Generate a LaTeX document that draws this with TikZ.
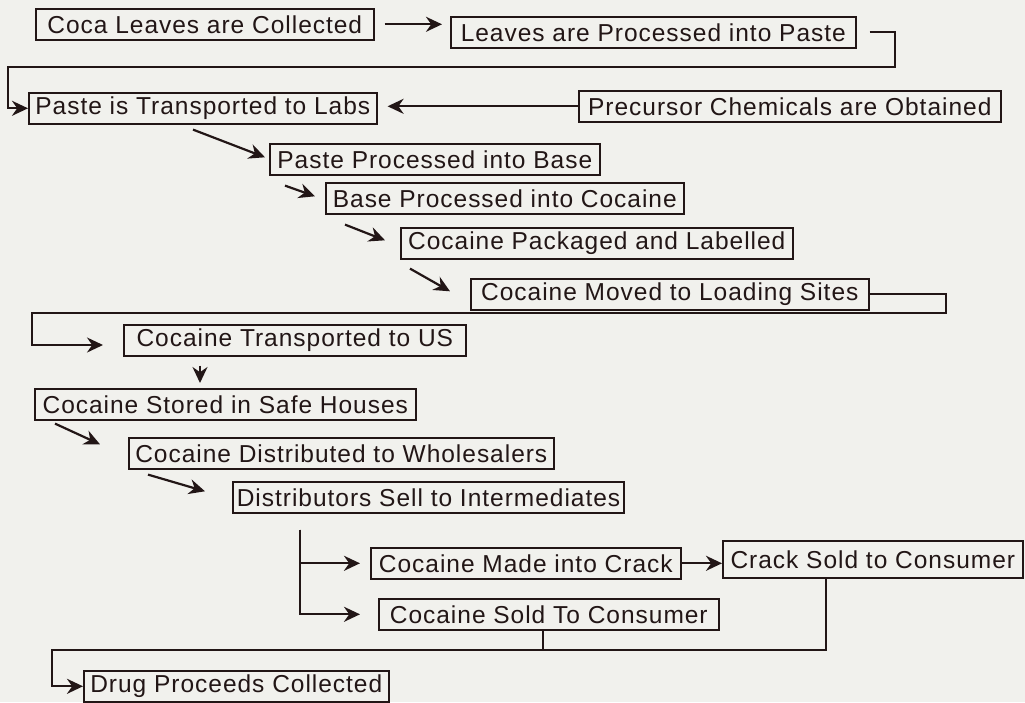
\documentclass[tikz,border=0pt]{standalone}
\usepackage{fontspec}
\setmainfont{Liberation Sans}[LetterSpace=4.0]
\usepackage{tikz}
\usetikzlibrary{shapes, calc, arrows.meta}
\usepackage{xcolor}
\definecolor{ink}{RGB}{34,22,22}
\definecolor{paper}{RGB}{241,241,237}

\begin{document}
\begin{tikzpicture}[x=1pt, y=-1pt]
	\tikzstyle{stepbox}=[
	draw=ink,
	line width=1.6pt,
	rectangle,
	anchor=north west,
	inner xsep=4pt,
	inner ysep=0pt,
	minimum height=31pt,
	text=ink,
	font=\fontsize{24.5}{28}\selectfont
	]
	\tikzstyle{flow}=[draw=ink, line width=2.2pt, -{Stealth[length=16pt, width=15pt]}]
	\tikzstyle{link}=[draw=ink, line width=2.2pt]
	\fill[paper] (0,0) rectangle (1025,702);
	\useasboundingbox (0,0) rectangle (1025,702);
	\node[stepbox, minimum width=338pt] (coca) at (35,8) {Coca Leaves are Collected};
	\node[stepbox, minimum width=405pt] (leaves) at (450,16) {Leaves are Processed into Paste};
	\node[stepbox, minimum width=348pt] (paste) at (28,92) {Paste is Transported to Labs};
	\node[stepbox, minimum width=422pt] (precursor) at (578,90) {Precursor Chemicals are Obtained};
	\node[stepbox, minimum width=330pt] (base) at (269,143) {Paste Processed into Base};
	\node[stepbox, minimum width=358pt] (cocaine) at (325,182) {Base Processed into Cocaine};
	\node[stepbox, minimum width=392pt] (packaged) at (400,227) {Cocaine Packaged and Labelled};
	\node[stepbox, minimum width=398pt] (moved) at (470,278) {Cocaine Moved to Loading Sites};
	\node[stepbox, minimum width=342pt] (transported) at (123,324) {Cocaine Transported to US};
	\node[stepbox, minimum width=381pt] (safe) at (34,388) {Cocaine Stored in Safe Houses};
	\node[stepbox, minimum width=425pt] (wholesalers) at (128,437) {Cocaine Distributed to Wholesalers};
	\node[stepbox, minimum width=390pt] (distributors) at (232,481) {Distributors Sell to Intermediates};
	\node[stepbox, minimum width=310pt] (made) at (370,547) {Cocaine Made into Crack};
	\node[stepbox, minimum width=300pt, minimum height=37pt] (cracksale) at (722,540) {Crack Sold to Consumer};
	\node[stepbox, minimum width=340pt] (sale) at (378,598) {Cocaine Sold To Consumer};
	\node[stepbox, minimum width=305pt] (proceeds) at (83,670) {Drug Proceeds Collected};
	\draw[flow, shorten <=10pt, shorten >=8pt] (coca.east) -- (coca.east -| leaves.west);
	\coordinate (turnA) at (895,67);
	\coordinate (backA) at (8,67);
	\draw[flow, shorten <=13pt] (leaves.east) -| (turnA) -- (backA) |- (paste.west);
	\draw[flow, shorten >=10pt] (precursor.west) -- (precursor.west -| paste.east);
	\draw[flow] ([shift={(165,5)}]paste.south west) -- ([shift={(-4,-2)}]base.west);
	\draw[flow] ([shift={(16,10)}]base.south west) -- ([shift={(-10,-2)}]cocaine.west);
	\draw[flow] ([shift={(20,10)}]cocaine.south west) -- ([shift={(-15,-3)}]packaged.west);
	\draw[flow] ([shift={(10,9)}]packaged.south west) -- ([shift={(-20,-3)}]moved.west);
	\coordinate (turnB) at (946,313);
	\coordinate (backB) at (32,345);
	\draw[flow, shorten >=20pt] (moved.east) -| (turnB) -| (backB) -- (backB -| transported.west);
	\coordinate (dropC) at ([xshift=77pt]transported.south west);
	\draw[flow, shorten <=9pt, shorten >=5pt] (dropC) -- (dropC |- safe.north);
	\draw[flow] ([shift={(21,3)}]safe.south west) -- ([shift={(-28,-9)}]wholesalers.west);
	\draw[flow] ([shift={(20,5)}]wholesalers.south west) -- ([shift={(-27,-6)}]distributors.west);
	\coordinate (forkD) at ([shift={(68,16)}]distributors.south west);
	\draw[flow, shorten >=10pt] (forkD) |- (made.west);
	\draw[flow, shorten >=18pt] (forkD) |- (sale.west);
	\draw[flow] (made.east) -- (made.east -| cracksale.west);
	\coordinate (joinE) at ([xshift=104pt]cracksale.south west);
	\coordinate (backE) at (52,650);
	\draw[flow] (joinE) |- (backE) |- (proceeds.west);
	\draw[link] ([xshift=165pt]sale.south west) -- ([xshift=165pt]sale.south west |- backE);
\end{tikzpicture}
\end{document}
